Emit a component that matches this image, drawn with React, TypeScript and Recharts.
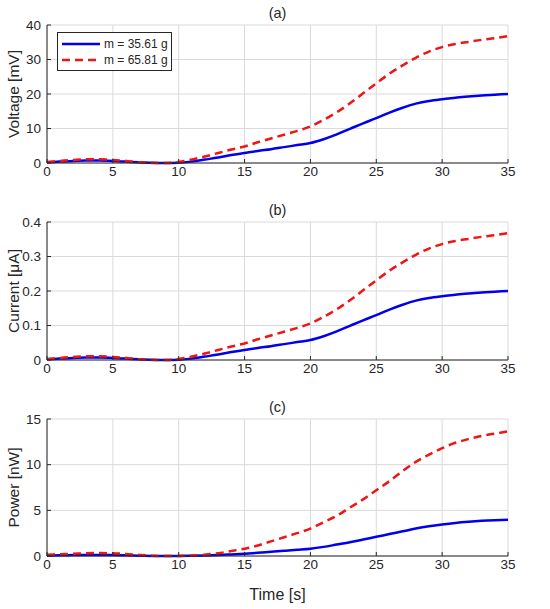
import React from 'react';
import { LineChart, Line, XAxis, YAxis, CartesianGrid, Legend } from 'recharts';

// time samples [s]
const TIME = [0, 1, 2, 3, 4, 5, 6, 7, 8, 9, 10, 11, 12, 13, 14, 15, 16, 17, 18, 19, 20, 21, 22, 23, 24, 25, 26, 27, 28, 29, 30, 31, 32, 33, 34, 35];

// voltage [mV]
const VOLT_M1 = [0.2, 0.4, 0.6, 0.7, 0.7, 0.6, 0.4, 0.2, 0.05, 0, 0.1, 0.4, 1.0, 1.6, 2.3, 2.9, 3.5, 4.0, 4.6, 5.2, 5.8, 6.9, 8.3, 9.9, 11.5, 13.0, 14.6, 16.0, 17.2, 18.0, 18.5, 18.9, 19.3, 19.6, 19.8, 20.0];
const VOLT_M2 = [0.3, 0.6, 0.9, 1.1, 1.1, 0.9, 0.6, 0.2, 0, 0, 0.3, 1.0, 1.9, 2.9, 3.9, 4.8, 6.0, 7.1, 8.2, 9.3, 10.6, 12.5, 14.7, 17.3, 20.2, 23.1, 25.9, 28.3, 30.5, 32.3, 33.6, 34.5, 35.1, 35.7, 36.2, 36.8];

// current [uA]
const CURR_M1 = [0.002, 0.004, 0.006, 0.007, 0.007, 0.006, 0.004, 0.002, 0.0005, 0, 0.001, 0.004, 0.010, 0.016, 0.023, 0.029, 0.035, 0.040, 0.046, 0.052, 0.058, 0.069, 0.083, 0.099, 0.115, 0.130, 0.146, 0.160, 0.172, 0.180, 0.185, 0.189, 0.193, 0.196, 0.198, 0.200];
const CURR_M2 = [0.003, 0.006, 0.009, 0.011, 0.011, 0.009, 0.006, 0.002, 0, 0, 0.003, 0.010, 0.019, 0.029, 0.039, 0.048, 0.060, 0.071, 0.082, 0.093, 0.106, 0.125, 0.147, 0.173, 0.202, 0.231, 0.259, 0.283, 0.305, 0.323, 0.336, 0.345, 0.351, 0.357, 0.362, 0.368];

// power [nW]
const POW_M1 = [0.05, 0.08, 0.1, 0.12, 0.12, 0.1, 0.08, 0.04, 0.01, 0, 0, 0.02, 0.05, 0.1, 0.17, 0.25, 0.35, 0.46, 0.57, 0.68, 0.8, 1.0, 1.25, 1.5, 1.8, 2.1, 2.4, 2.7, 3.0, 3.25, 3.45, 3.62, 3.75, 3.85, 3.92, 3.97];
const POW_M2 = [0.15, 0.2, 0.25, 0.3, 0.32, 0.3, 0.22, 0.12, 0.04, 0, 0, 0.05, 0.15, 0.3, 0.55, 0.8, 1.15, 1.6, 2.05, 2.5, 3.0, 3.7, 4.4, 5.3, 6.2, 7.2, 8.2, 9.3, 10.3, 11.1, 11.8, 12.4, 12.8, 13.15, 13.4, 13.65];

const X_TICKS = [0, 5, 10, 15, 20, 25, 30, 35];
const VOLT_TICKS = [0, 10, 20, 30, 40];
const CURR_TICKS = [0, 0.1, 0.2, 0.3, 0.4];
const POW_TICKS = [0, 5, 10, 15];

const SERIES_NAMES = ['m = 35.61 g', 'm = 65.81 g'];

const BLUE = '#0000ee';
const RED = '#f01414';
const INK = '#262626';
const FONT = '"Liberation Sans", Arial, Helvetica, sans-serif';

const rows = (a: number[], b: number[]) => TIME.map((t, i) => ({ t, a: a[i], b: b[i] }));

function YLabel(props: any) {
	const vb = props.viewBox || {};
	const cy = vb.y + vb.height / 2;
	return (
		<text x={13} y={cy} transform={`rotate(-90, 13, ${cy})`} textAnchor="middle" dominantBaseline="central" fill={INK} fontSize={15.5} fontFamily={FONT}>
			{props.text}
		</text>
	);
}

function LegendBox() {
	return (
		<div style={{ border: `1px solid ${INK}`, background: '#fff', width: 113, height: 37, boxSizing: 'content-box' }}>
			<svg width={113} height={37} style={{ display: 'block', overflow: 'visible' }}>
				<line x1={4} x2={42} y1={11} y2={11} stroke={BLUE} strokeWidth={2.5} />
				<text x={46} y={11} dominantBaseline="central" fill={INK} fontSize={12} fontFamily={FONT}>{SERIES_NAMES[0]}</text>
				<line x1={4} x2={42} y1={27} y2={27} stroke={RED} strokeWidth={2.5} strokeDasharray="8 5" />
				<text x={46} y={27} dominantBaseline="central" fill={INK} fontSize={12} fontFamily={FONT}>{SERIES_NAMES[1]}</text>
			</svg>
		</div>
	);
}

interface PanelProps {
	title: string;
	top: number;
	height: number;
	marginTop: number;
	xHeight: number;
	data: { t: number; a: number; b: number }[];
	yTicks: number[];
	yLabel: string;
	legend?: boolean;
	xLabel?: string;
}

function Panel({ title, top, height, marginTop, xHeight, data, yTicks, yLabel, legend, xLabel }: PanelProps) {
	const yDomain = [yTicks[0], yTicks[yTicks.length - 1]];
	const tickStyle = { fill: INK, fontSize: 13.5, fontFamily: FONT };
	return (
		<div style={{ position: 'absolute', left: 0, top, width: 550, height }}>
			<div style={{ position: 'absolute', left: 47, width: 461, top: marginTop - 20, textAlign: 'center', fontFamily: FONT, fontSize: 14.5, color: INK, lineHeight: '17px' }}>
				{title}
			</div>
			<LineChart width={550} height={height} data={data} margin={{ top: marginTop, right: 42, bottom: 0, left: 0 }}>
				<CartesianGrid stroke="#dadada" strokeWidth={1} />
				<XAxis dataKey="t" type="number" domain={[0, 35]} ticks={X_TICKS} height={xHeight} stroke={INK} tickSize={-4} tickMargin={7} tick={tickStyle}
					label={xLabel ? { value: xLabel, position: 'insideBottom', offset: 9, fill: INK, fontSize: 16, fontFamily: FONT } : undefined} />
				<XAxis xAxisId="top" orientation="top" dataKey="t" type="number" domain={[0, 35]} ticks={X_TICKS} allowDataOverflow height={0} stroke={INK} tickSize={-4} tick={false} />
				<YAxis type="number" domain={yDomain} ticks={yTicks} width={47} stroke={INK} tickSize={-4} tickMargin={10} tick={tickStyle}
					label={{ content: (p: any) => <YLabel {...p} text={yLabel} /> }} />
				<YAxis yAxisId="right" orientation="right" type="number" domain={yDomain} ticks={yTicks} allowDataOverflow width={0} stroke={INK} tickSize={-4} tick={false} />
				<Line type="monotone" dataKey="a" name={SERIES_NAMES[0]} stroke={BLUE} strokeWidth={2.5} dot={false} isAnimationActive={false} />
				<Line type="monotone" dataKey="b" name={SERIES_NAMES[1]} stroke={RED} strokeWidth={2.5} strokeDasharray="8 5" dot={false} isAnimationActive={false} />
				{legend && (
					<Legend layout="vertical" align="center" verticalAlign="middle" content={() => <LegendBox />} wrapperStyle={{ left: 57, top: 32, width: 'auto' }} />
				)}
			</LineChart>
		</div>
	);
}

export default function App() {
	return (
		<div style={{ position: 'absolute', left: 0, top: 0, width: 550, height: 609, background: '#fff', overflow: 'hidden' }}>
			<Panel title="(a)" top={0} height={190} marginTop={25} xHeight={27} data={rows(VOLT_M1, VOLT_M2)} yTicks={VOLT_TICKS} yLabel="Voltage [mV]" legend />
			<Panel title="(b)" top={190} height={197} marginTop={32} xHeight={27} data={rows(CURR_M1, CURR_M2)} yTicks={CURR_TICKS} yLabel="Current [μA]" />
			<Panel title="(c)" top={390} height={219} marginTop={29} xHeight={53} data={rows(POW_M1, POW_M2)} yTicks={POW_TICKS} yLabel="Power [nW]" xLabel="Time [s]" />
		</div>
	);
}
